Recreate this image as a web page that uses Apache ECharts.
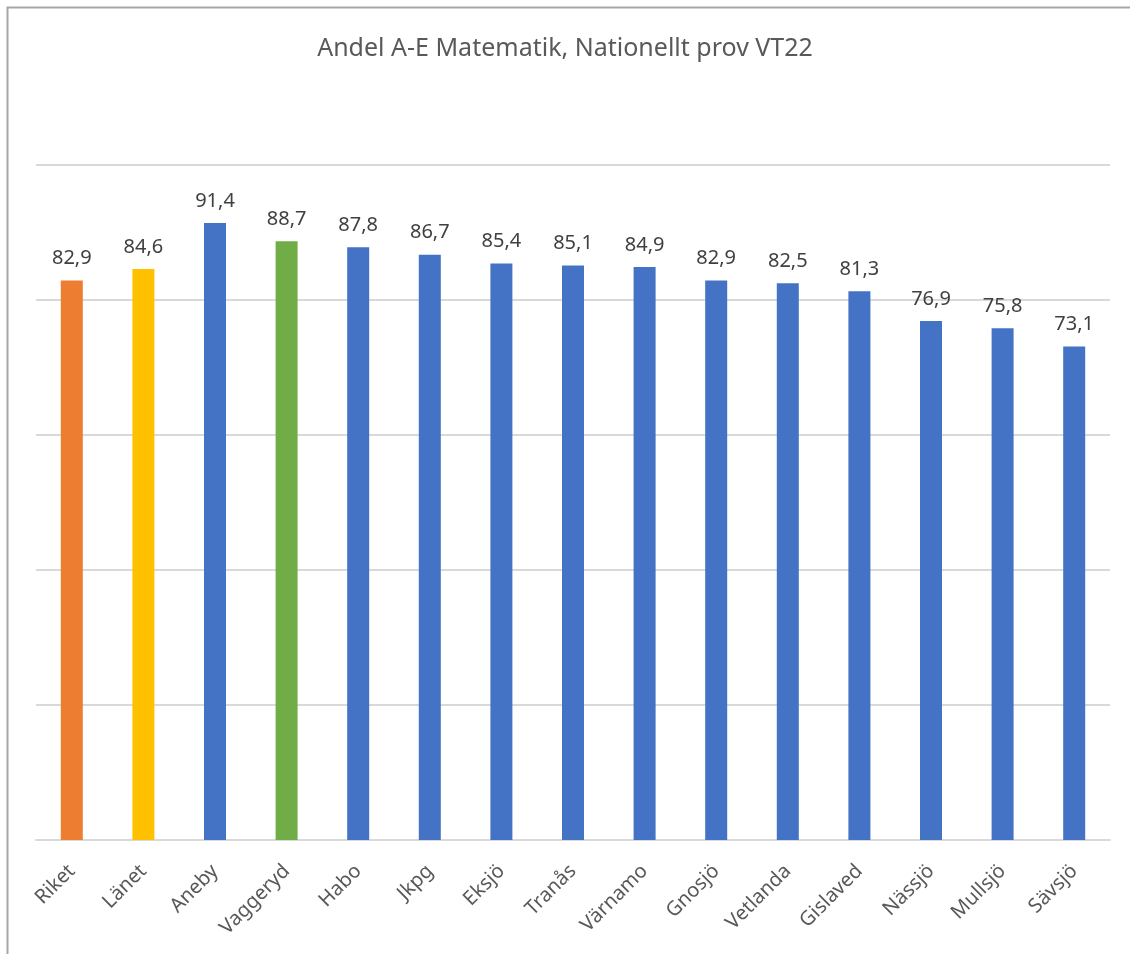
<!DOCTYPE html>
<html>
<head>
<meta charset="utf-8">
<script src="https://cdn.jsdelivr.net/npm/echarts@6/dist/echarts.min.js"></script>
<style>
html, body { margin: 0; padding: 0; background: #fff; }
#main { width: 1130px; height: 954px; }
</style>
</head>
<body>
<div id="main"></div>
<script>
var categories = ['Riket', 'Länet', 'Aneby', 'Vaggeryd', 'Habo', 'Jkpg', 'Eksjö', 'Tranås', 'Värnamo', 'Gnosjö', 'Vetlanda', 'Gislaved', 'Nässjö', 'Mullsjö', 'Sävsjö'];
var values = [82.9, 84.6, 91.4, 88.7, 87.8, 86.7, 85.4, 85.1, 84.9, 82.9, 82.5, 81.3, 76.9, 75.8, 73.1];
var barColors = ['#ED7D31', '#FFC000', '#4472C4', '#70AD47', '#4472C4', '#4472C4', '#4472C4', '#4472C4', '#4472C4', '#4472C4', '#4472C4', '#4472C4', '#4472C4', '#4472C4', '#4472C4'];

var chart = echarts.init(document.getElementById('main'));
var font = 'Noto Sans';

var option = {
    backgroundColor: '#fff',
    animation: false,
    title: {
        text: 'Andel A-E Matematik, Nationellt prov VT22',
        left: 'center',
        top: 31,
        textStyle: { fontFamily: font, fontSize: 25, fontWeight: 'normal', color: '#595959' }
    },
    graphic: [{
        type: 'rect',
        shape: { x: 7.5, y: 7.5, width: 1140, height: 960 },
        style: { fill: null, stroke: '#a6a6a6', lineWidth: 2 },
        silent: true
    }],
    grid: { left: 36, right: 20, top: 165, bottom: 114 },
    xAxis: {
        type: 'category',
        data: categories,
        axisLine: { lineStyle: { color: '#d9d9d9', width: 2 } },
        axisTick: { show: false },
        axisLabel: {
            rotate: 45,
            margin: 28,
            interval: 0,
            fontFamily: font,
            fontSize: 20,
            color: '#595959'
        }
    },
    yAxis: {
        type: 'value',
        min: 0,
        max: 100,
        interval: 20,
        axisLabel: { show: false },
        axisLine: { show: false },
        axisTick: { show: false },
        splitLine: { lineStyle: { color: '#d9d9d9', width: 2 } }
    },
    series: [{
        type: 'bar',
        barWidth: 22,
        data: values.map(function (v, i) {
            return { value: v, itemStyle: { color: barColors[i] } };
        }),
        label: {
            show: true,
            position: 'top',
            distance: 12,
            fontFamily: font,
            fontSize: 20,
            color: '#404040',
            formatter: function (p) { return p.value.toFixed(1).replace('.', ','); }
        }
    }]
};

chart.setOption(option);
</script>
</body>
</html>
